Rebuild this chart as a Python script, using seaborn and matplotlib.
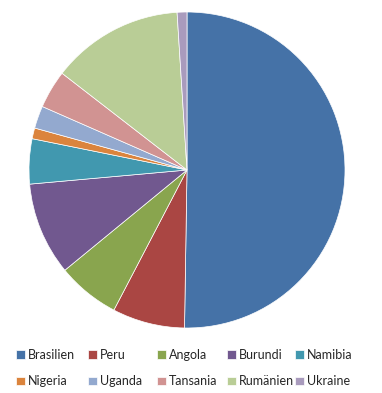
import matplotlib
matplotlib.use("Agg")
import matplotlib.pyplot as plt
import seaborn as sns

sns.set_theme(style="white")
plt.rcParams['font.family'] = ['Lato', 'DejaVu Sans']

countries = ["Brasilien", "Peru", "Angola", "Burundi", "Namibia",
             "Nigeria", "Uganda", "Tansania", "Rumänien", "Ukraine"]
shares = [50.2, 7.4, 6.4, 9.5, 4.6, 1.1, 2.3, 3.9, 13.5, 1.0]
colors = ["#4572A7", "#AA4643", "#89A54E", "#71588F", "#4198AF",
          "#DB843D", "#93A9CF", "#D19392", "#B9CD96", "#A99BBD"]
sns.set_palette(colors)

W, H = 382, 393
fig = plt.figure(figsize=(W / 100, H / 100), dpi=100)
cx, cy, r = 187, 170, 158
ax = fig.add_axes([(cx - r) / W, (H - cy - r) / H, 2 * r / W, 2 * r / H])
wedges, _ = ax.pie(shares, colors=sns.color_palette(), startangle=90, counterclock=False,
                   wedgeprops=dict(linewidth=0.5, edgecolor="white"), radius=1)
ax.set_xlim(-1, 1)
ax.set_ylim(-1, 1)
ax.set_aspect("equal")
ax.axis("off")

col_x = [16, 88, 157, 227, 295]
for i, x in enumerate(col_x):
    hs = [wedges[i], wedges[i + 5]]
    ls = [countries[i], countries[i + 5]]
    fig.legend(hs, ls, loc="upper left", bbox_to_anchor=(x / W, 1 - 349 / H),
               frameon=False, fontsize=9, handlelength=0.7, handleheight=0.7,
               handletextpad=0.25, labelspacing=1.15, borderpad=0, borderaxespad=0)

fig.savefig("out.png", dpi=100)
